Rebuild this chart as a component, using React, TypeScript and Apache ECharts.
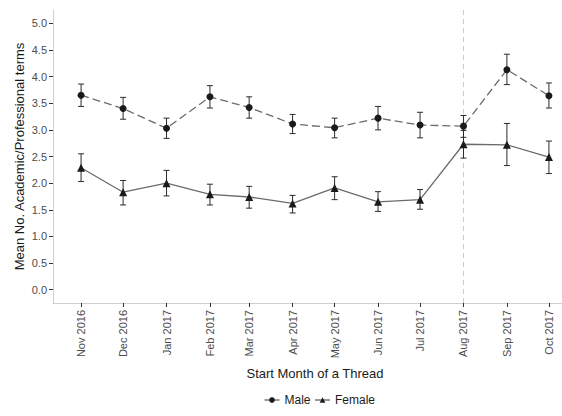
import React, { useEffect, useRef } from "react";
import * as echarts from "echarts";

// Month each thread started (first day of month) and its axis label
const monthStarts = [
  "2016-11-01", "2016-12-01", "2017-01-01", "2017-02-01", "2017-03-01", "2017-04-01",
  "2017-05-01", "2017-06-01", "2017-07-01", "2017-08-01", "2017-09-01", "2017-10-01",
];
const monthLabels = [
  "Nov 2016", "Dec 2016", "Jan 2017", "Feb 2017", "Mar 2017", "Apr 2017",
  "May 2017", "Jun 2017", "Jul 2017", "Aug 2017", "Sep 2017", "Oct 2017",
];

// Mean number of academic/professional terms with error-bar bounds
const maleMean = [3.65, 3.40, 3.03, 3.62, 3.42, 3.11, 3.04, 3.22, 3.09, 3.07, 4.13, 3.64];
const maleLow = [3.44, 3.20, 2.84, 3.41, 3.22, 2.93, 2.85, 3.00, 2.85, 2.86, 3.85, 3.41];
const maleHigh = [3.86, 3.61, 3.22, 3.83, 3.62, 3.29, 3.22, 3.44, 3.33, 3.27, 4.42, 3.88];

const femaleMean = [2.29, 1.83, 2.00, 1.79, 1.74, 1.62, 1.91, 1.65, 1.69, 2.73, 2.72, 2.49];
const femaleLow = [2.03, 1.59, 1.76, 1.59, 1.53, 1.44, 1.69, 1.47, 1.51, 2.47, 2.33, 2.18];
const femaleHigh = [2.55, 2.05, 2.24, 1.98, 1.94, 1.77, 2.12, 1.84, 1.88, 2.99, 3.12, 2.79];

const yTicks = [0, 0.5, 1, 1.5, 2, 2.5, 3, 3.5, 4, 4.5, 5];
const markerMonth = "2017-08-01";

const FONT = "'Liberation Sans', Arial, Helvetica, sans-serif";

export default function App() {
  const ref = useRef<HTMLDivElement>(null);

  useEffect(() => {
    if (!ref.current) return;
    const chart = echarts.init(ref.current, undefined, { renderer: "svg" });

    // x positions are the month-start timestamps on a linear (value) axis
    const times = monthStarts.map((s) => Date.parse(s));
    const span = times[times.length - 1] - times[0];
    const pad = span * 0.06;

    const errData = (low: number[], high: number[]) =>
      times.map((t, i) => [t, low[i], high[i]]);

    const errorBarItem = (params: any, api: any) => {
      const x = api.value(0);
      const lo = api.coord([x, api.value(1)]);
      const hi = api.coord([x, api.value(2)]);
      const half = 3;
      const style = { stroke: "#2b2b2b", lineWidth: 1, fill: null };
      return {
        type: "group",
        children: [
          { type: "line", shape: { x1: lo[0], y1: lo[1], x2: hi[0], y2: hi[1] }, style },
          { type: "line", shape: { x1: hi[0] - half, y1: hi[1], x2: hi[0] + half, y2: hi[1] }, style },
          { type: "line", shape: { x1: lo[0] - half, y1: lo[1], x2: lo[0] + half, y2: lo[1] }, style },
        ],
      };
    };

    chart.setOption({
      animation: false,
      textStyle: { fontFamily: FONT },
      grid: { left: 53, right: 0, top: 10, bottom: 113, containLabel: false },
      legend: {
        data: ["Male", "Female"],
        left: 259,
        top: 389,
        itemWidth: 15,
        itemHeight: 7,
        itemGap: 4,
        textStyle: { fontFamily: FONT, fontSize: 12, color: "#1a1a1a" },
        lineStyle: { type: "solid", color: "#333", width: 1 },
        itemStyle: { color: "#1a1a1a" },
      },
      xAxis: {
        type: "value",
        min: times[0] - pad,
        max: times[times.length - 1] + pad,
        name: "Start Month of a Thread",
        nameLocation: "middle",
        nameGap: 64,
        nameTextStyle: { fontFamily: FONT, fontSize: 13, color: "#1a1a1a" },
        axisLine: { show: true, onZero: false, lineStyle: { color: "#d0d0d0", width: 1 } },
        axisTick: { show: true, length: 4, lineStyle: { color: "#333" }, customValues: times },
        axisLabel: {
          customValues: times,
          rotate: 90,
          margin: 7,
          fontFamily: FONT,
          fontSize: 11,
          color: "#4d4d4d",
          formatter: (v: number) => {
            const i = times.indexOf(v);
            return i >= 0 ? monthLabels[i] : "";
          },
        },
        splitLine: { show: false },
      },
      yAxis: {
        type: "value",
        min: -0.25,
        max: 5.25,
        name: "Mean No. Academic/Professional terms",
        nameLocation: "middle",
        nameGap: 27,
        nameMoveOverlap: false,
        nameTextStyle: { fontFamily: FONT, fontSize: 13, color: "#1a1a1a" },
        axisLine: { show: true, onZero: false, lineStyle: { color: "#d0d0d0", width: 1 } },
        axisTick: { show: true, length: 4, lineStyle: { color: "#333" }, customValues: yTicks },
        axisLabel: {
          customValues: yTicks,
          margin: 6,
          fontFamily: FONT,
          fontSize: 11,
          color: "#4d4d4d",
          formatter: (v: number) => v.toFixed(1),
        },
        splitLine: { show: false },
      },
      series: [
        {
          name: "MaleErr",
          type: "custom",
          renderItem: errorBarItem,
          data: errData(maleLow, maleHigh),
          z: 3,
          silent: true,
        },
        {
          name: "FemaleErr",
          type: "custom",
          renderItem: errorBarItem,
          data: errData(femaleLow, femaleHigh),
          z: 3,
          silent: true,
        },
        {
          name: "Male",
          type: "line",
          data: times.map((t, i) => [t, maleMean[i]]),
          symbol: "circle",
          symbolSize: 7,
          showAllSymbol: true,
          lineStyle: { color: "#6b6b6b", width: 1.3, type: [8, 4] },
          itemStyle: { color: "#1a1a1a", borderWidth: 0 },
          z: 4,
          markLine: {
            silent: true,
            symbol: "none",
            label: { show: false },
            lineStyle: { color: "#cccccc", type: [5, 4], width: 1 },
            data: [{ xAxis: Date.parse(markerMonth) }],
            z: 1,
          },
        },
        {
          name: "Female",
          type: "line",
          data: times.map((t, i) => [t, femaleMean[i]]),
          symbol: "triangle",
          symbolSize: 8,
          showAllSymbol: true,
          lineStyle: { color: "#6b6b6b", width: 1.3, type: "solid" },
          itemStyle: { color: "#1a1a1a", borderWidth: 0 },
          z: 4,
        },
      ],
    });

    return () => chart.dispose();
  }, []);

  // The plot panel runs past the right edge of the visible frame
  return (
    <div
      style={{
        position: "fixed", left: 0, top: 0, width: 562, height: 416,
        overflow: "hidden", background: "#fff",
      }}
    >
      <div ref={ref} style={{ width: 577, height: 416 }} />
    </div>
  );
}
